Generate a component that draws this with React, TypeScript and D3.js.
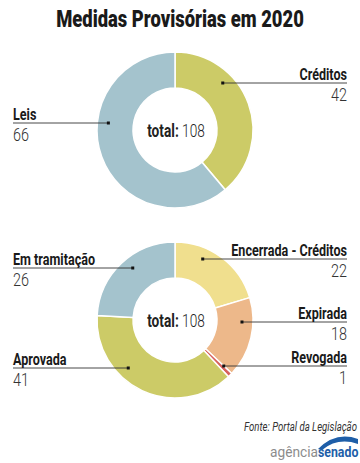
import * as d3 from 'd3';

const title = 'Medidas Provisórias em 2020';
const totalLabel = 'total:';
const totalValue = 108;

const topLabels = ['Créditos', 'Leis'];
const topValues = [42, 66];
const topColors = ['#cccb67', '#a4c3cd'];
const topSides = ['right', 'left'];
const topLineY = [83, 123];

const bottomLabels = ['Encerrada - Créditos', 'Expirada', 'Revogada', 'Aprovada', 'Em tramitação'];
const bottomValues = [22, 18, 1, 41, 26];
const bottomColors = ['#f0df8e', '#edb88a', '#d8625e', '#cccb67', '#a4c3cd'];
const bottomSides = ['right', 'right', 'right', 'left', 'left'];
const bottomLineY = [259, 322, 366, 368, 268];

const source = 'Fonte: Portal da Legislação';

const W = 360;
const H = 463;
const FONT = 'Roboto, sans-serif';
const SQUEEZE = 0.74;
const outerR = 78;
const innerR = 42;
const dotR = 67;
const leftX = 13;
const rightX = 347;

// narrow text: horizontally compressed around its anchor point
function Narrow({ x, y, anchor = 'start', size, weight = 'normal', fill = '#222', sx = SQUEEZE, style = 'normal', children }: any) {
  return (
    <text transform={`translate(${x},${y}) scale(${sx},1)`} textAnchor={anchor} fontFamily={FONT}
      fontSize={size} fontWeight={weight} fontStyle={style} fill={fill}>
      {children}
    </text>
  );
}

function Donut({ cy, labels, values, colors, sides, lineY }: {
  cy: number; labels: string[]; values: number[]; colors: string[]; sides: string[]; lineY: number[];
}) {
  const cx = 175;
  const pie = d3.pie<number>().sort(null).value(d => d)(values);
  const arc = d3.arc<d3.PieArcDatum<number>>().innerRadius(innerR).outerRadius(outerR);
  return (
    <g>
      <g transform={`translate(${cx},${cy})`}>
        {pie.map((p, i) => (
          <path key={i} d={arc(p) || ''} fill={colors[i]} stroke="#fff" strokeWidth={1.5} />
        ))}
      </g>
      <Narrow x={cx + 1} y={cy + 7} anchor="middle" size={18} sx={0.76} fill="#222">
        <tspan fontWeight="bold">{totalLabel}</tspan>
        <tspan fontWeight={300}> {totalValue}</tspan>
      </Narrow>
      {labels.map((l, i) => {
        const y = lineY[i];
        const dy = y - cy;
        const dx = Math.sqrt(Math.max(0, dotR * dotR - dy * dy));
        const right = sides[i] === 'right';
        const dotX = right ? cx + dx : cx - dx;
        const tx = right ? rightX : leftX;
        const anchor = right ? 'end' : 'start';
        return (
          <g key={l}>
            <line x1={dotX} x2={tx} y1={y} y2={y} stroke="#333" strokeWidth={0.9} />
            <rect x={dotX - 1.5} y={y - 1.5} width={3} height={3} fill="#111" />
            <Narrow x={tx} y={y - 3.5} anchor={anchor} size={17} weight="bold" fill="#1a1a1a">{l}</Narrow>
            <Narrow x={tx} y={y + 17.5} anchor={anchor} size={18} weight={300} sx={0.8} fill="#333">{values[i]}</Narrow>
          </g>
        );
      })}
    </g>
  );
}

export default function App() {
  return (
    <svg width={W} height={H} style={{ position: 'absolute', left: 0, top: 0, background: '#fff' }}>
      <Narrow x={180} y={27} anchor="middle" size={23} weight={900} sx={0.8} fill="#1a1a1a">{title}</Narrow>
      <Donut cy={130} labels={topLabels} values={topValues} colors={topColors} sides={topSides} lineY={topLineY} />
      <Donut cy={320} labels={bottomLabels} values={bottomValues} colors={bottomColors} sides={bottomSides} lineY={bottomLineY} />
      <Narrow x={357} y={431} anchor="end" size={13} style="italic" sx={0.74} fill="#333">{source}</Narrow>
      <path d="M318,449 Q336,431 358,439 L358,444 Q338,437 322,450 Z" fill="#1e5ea8" />
      <Narrow x={318} y={457} anchor="end" size={14} sx={0.98} fill="#8c8c8c">agência</Narrow>
      <Narrow x={318} y={457} anchor="start" size={14} weight="bold" sx={0.88} fill="#1e5ea8">senado</Narrow>
    </svg>
  );
}
